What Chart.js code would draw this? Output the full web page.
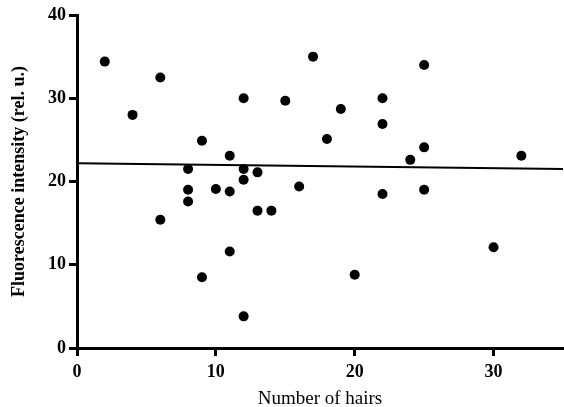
<!DOCTYPE html>
<html>
<head>
<meta charset="utf-8">
<script src="https://cdn.jsdelivr.net/npm/chart.js@4.4.1/dist/chart.umd.min.js"></script>
<style>
  html, body { margin: 0; padding: 0; background: #fff; overflow: hidden; }
  canvas { display: block; }
</style>
</head>
<body>
<canvas id="hairChart" width="568" height="407"></canvas>
<script>
// number of hairs vs fluorescence
const hairs = [2, 4, 6, 6, 8, 8, 8, 9, 9, 10, 11, 11, 11, 12, 12, 12, 12, 13, 13, 14,
  15, 16, 17, 18, 19, 20, 22, 22, 22, 24, 25, 25, 25, 30, 32];
const intensity = [34.4, 28, 32.5, 15.4, 21.5, 19, 17.6, 24.9, 8.5, 19.1, 23.1, 18.8, 11.6,
  30, 21.5, 20.2, 3.8, 21.1, 16.5, 16.5, 29.7, 19.4, 35, 25.1, 28.7, 8.8, 30, 26.9, 18.5,
  22.6, 34, 24.1, 19, 12.1, 23.1];

// fitted line
const fitX = [0, 35];
const fitY = [22.2, 21.5];

const xTicks = [0, 10, 20, 30];
const yTicks = [0, 10, 20, 30, 40];

const serif = "'Liberation Serif', 'DejaVu Serif', serif";

const points = hairs.map((h, i) => ({ x: h, y: intensity[i] }));
const fitLine = fitX.map((x, i) => ({ x: x, y: fitY[i] }));

const ctx = document.getElementById('hairChart');
new Chart(ctx, {
  type: 'scatter',
  data: {
    datasets: [
      {
        label: 'data',
        data: points,
        backgroundColor: '#000',
        borderWidth: 0,
        pointRadius: 5,
        pointHoverRadius: 5
      },
      {
        label: 'fit',
        data: fitLine,
        showLine: true,
        borderColor: '#000',
        borderWidth: 2,
        pointRadius: 0,
        fill: false
      }
    ]
  },
  options: {
    responsive: false,
    animation: false,
    layout: { padding: { top: 15, left: 0, right: 0, bottom: 0 } },
    plugins: {
      legend: { display: false },
      tooltip: { enabled: false }
    },
    scales: {
      x: {
        type: 'linear',
        min: 0,
        max: 35,
        afterBuildTicks: (axis) => { axis.ticks = xTicks.map(v => ({ value: v })); },
        afterFit: (axis) => { axis.height = 59; },
        border: { color: '#000', width: 3 },
        grid: { drawOnChartArea: false, color: '#000', tickColor: '#000', tickLength: 8, tickWidth: 3 },
        ticks: {
          color: '#000',
          padding: 6,
          font: { family: serif, size: 18, weight: 'bold' }
        },
        title: {
          display: true,
          text: 'Number of hairs',
          color: '#000',
          padding: { top: 0, bottom: -2 },
          font: { family: serif, size: 19, lineHeight: 1 }
        }
      },
      y: {
        type: 'linear',
        min: 0,
        max: 40,
        afterBuildTicks: (axis) => { axis.ticks = yTicks.map(v => ({ value: v })); },
        afterFit: (axis) => { axis.width = 77; },
        border: { color: '#000', width: 3 },
        grid: { drawOnChartArea: false, color: '#000', tickColor: '#000', tickLength: 8, tickWidth: 3 },
        ticks: {
          color: '#000',
          padding: 3,
          font: { family: serif, size: 18, weight: 'bold' }
        },
        title: {
          display: true,
          text: 'Fluorescence intensity (rel. u.)',
          color: '#000',
          padding: { top: 10, bottom: 0 },
          font: { family: serif, size: 18, weight: 'bold', lineHeight: 1 }
        }
      }
    }
  }
});
</script>
</body>
</html>
